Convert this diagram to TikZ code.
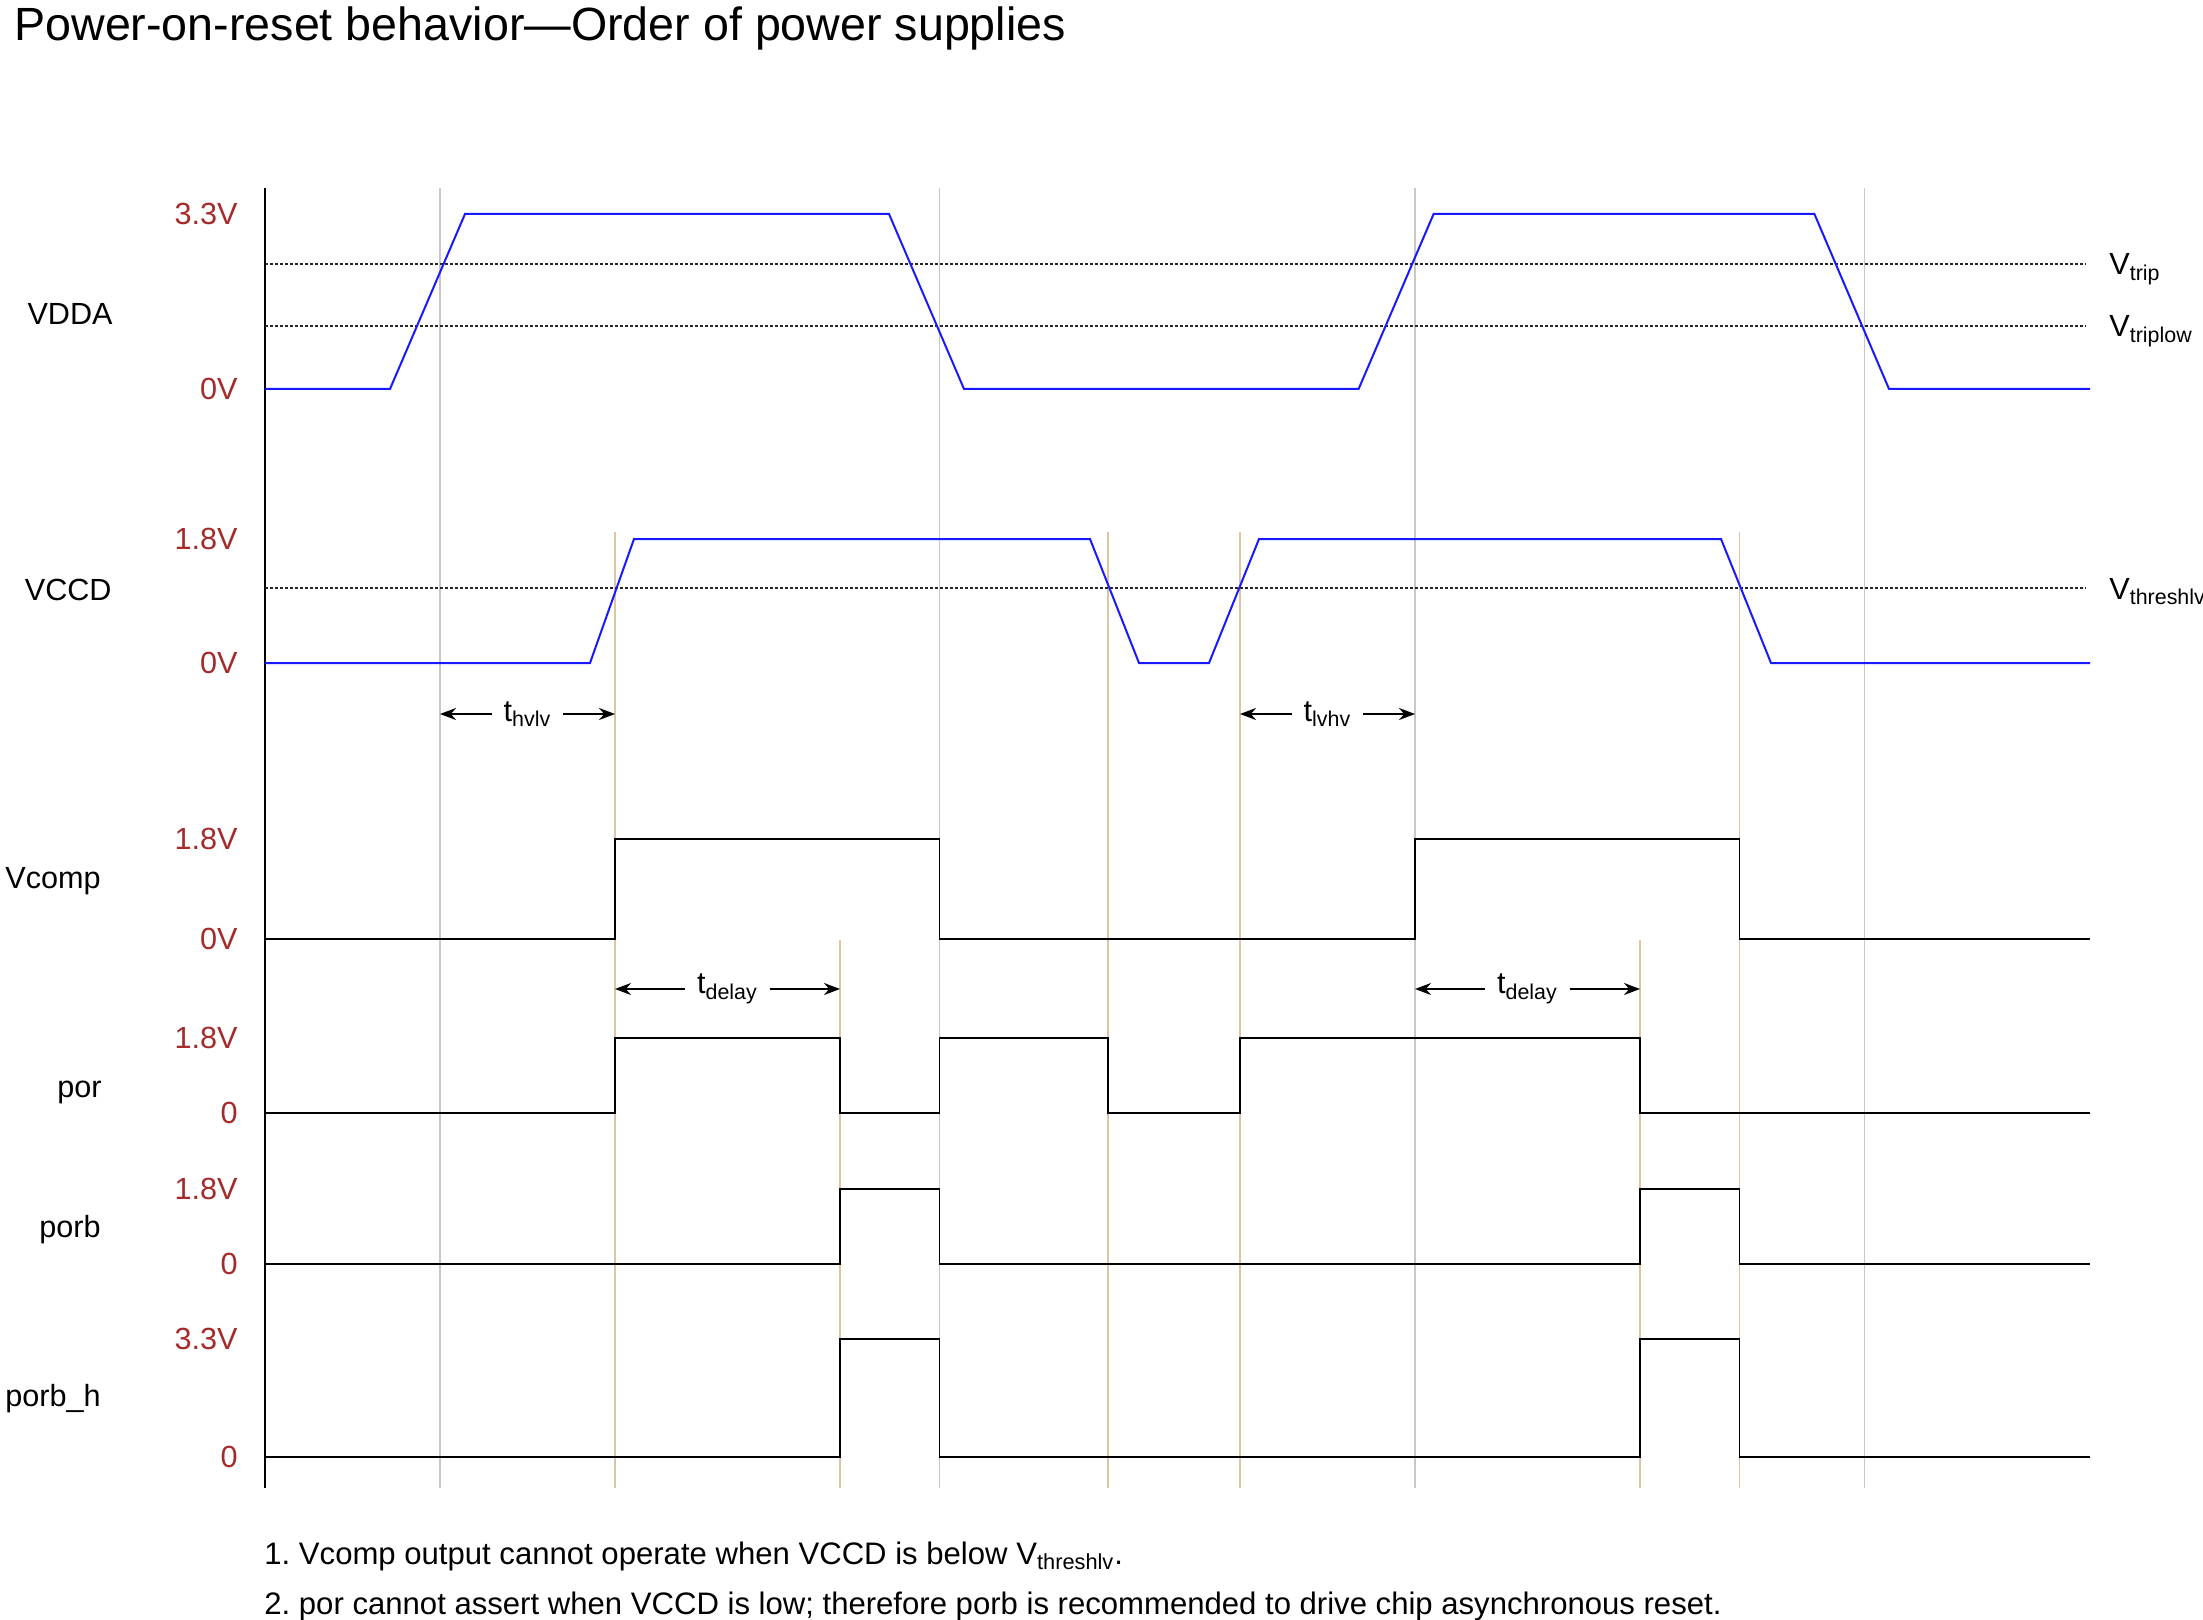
\documentclass[tikz,border=0pt]{standalone}
\usepackage{fontspec}
\setmainfont{Liberation Sans}
\usetikzlibrary{arrows.meta}
\frenchspacing
\definecolor{lvlred}{RGB}{165,42,42}
\definecolor{supblue}{RGB}{25,25,255}
\definecolor{gridgray}{RGB}{200,200,200}
\definecolor{gridtan}{RGB}{222,196,164}
\newcommand{\lbl}{\fontsize{15.3}{18}\selectfont}
\newcommand{\notefont}{\fontsize{15.55}{18}\selectfont}
% level values of one row: y high, y low, high text, low text
\newcommand{\levels}[4]{%
  \node[lvl] at (238,#1) {#3};
  \node[lvl] at (238,#2) {#4};}
\tikzset{
  supply/.style={supblue, line width=1pt},
  sig/.style={black, line width=0.9pt},
  thr/.style={black!85, line width=0.9pt, dash pattern=on 1.5pt off 1pt},
  gline/.style={gridgray, line width=0.6pt},
  oline/.style={gridtan, line width=0.6pt},
  lvl/.style={anchor=east, inner sep=0pt, font=\lbl, text=lvlred},
  signame/.style={anchor=base east, inner sep=0pt, font=\lbl},
  thrname/.style={anchor=base west, inner sep=0pt, font=\lbl},
  dimarr/.style={{Stealth[length=8pt,width=6pt]}-{Stealth[length=8pt,width=6pt]}, line width=1pt},
  dimtxt/.style={fill=white, inner xsep=6pt, inner ysep=1pt, font=\lbl},
}

\begin{document}
\begin{tikzpicture}[x=0.5pt,y=-0.5pt]
\useasboundingbox (0,0) rectangle (2203,1620);
\node[anchor=base west, inner sep=0pt, font=\fontsize{23.3}{28}\selectfont] (title) at (14,41)
  {Power-on-reset behavior—Order of power supplies};
% time marks
\foreach \t in {440,939.5,1415,1864.5} \draw[gline] (\t,188) -- (\t,1488);
\foreach \t in {615,1108,1240,1739.5} \draw[oline] (\t,532) -- (\t,1488);
\foreach \t in {840,1640} \draw[oline] (\t,940) -- (\t,1488);
\draw[line width=0.9pt] (265,188) -- (265,1488);
% thresholds
\draw[thr] (265,264) -- (2086,264);
\draw[thr] (265,326) -- (2086,326);
\draw[thr] (265,588) -- (2086,588);
\node[thrname] (vtrip) at (2109,275) {V\textsubscript{trip}};
\node[thrname] (vtriplow) at (2109,337) {V\textsubscript{triplow}};
\node[thrname] (vthr) at (2109,599) {V\textsubscript{threshlv}};
% supplies
\draw[supply] (265,389) -- (390,389) -- (465,214) -- (889,214) -- (964,389) -- (1358.6,389)
  -- (1433.6,214) -- (1814.4,214) -- (1889,389) -- (2090,389);
\draw[supply] (265,663) -- (590,663) -- (634,539) -- (1090,539) -- (1139,663) -- (1209,663)
  -- (1259,539) -- (1721,539) -- (1771,663) -- (2090,663);
% outputs
\draw[sig] (265,939) -- (615,939) -- (615,839) -- (939.5,839) -- (939.5,939) -- (1415,939)
  -- (1415,839) -- (1739.5,839) -- (1739.5,939) -- (2090,939);
\draw[sig] (265,1113) -- (615,1113) -- (615,1038) -- (840,1038) -- (840,1113) -- (939.5,1113)
  -- (939.5,1038) -- (1108,1038) -- (1108,1113) -- (1240,1113) -- (1240,1038) -- (1640,1038)
  -- (1640,1113) -- (2090,1113);
\draw[sig] (265,1264) -- (840,1264) -- (840,1189) -- (939.5,1189) -- (939.5,1264) -- (1640,1264)
  -- (1640,1189) -- (1739.5,1189) -- (1739.5,1264) -- (2090,1264);
\draw[sig] (265,1457) -- (840,1457) -- (840,1339) -- (939.5,1339) -- (939.5,1457) -- (1640,1457)
  -- (1640,1339) -- (1739.5,1339) -- (1739.5,1457) -- (2090,1457);
% row names and levels
\node[signame] (vdda) at (113,325) {VDDA};
\node[signame] (vccd) at (112,600) {VCCD};
\node[signame] (vcomp) at (101,888) {Vcomp};
\node[signame] (por) at (102,1097) {por};
\node[signame] (porb) at (101,1237) {porb};
\node[signame] (porbh) at (101,1406) {porb\_h};
\levels{214}{389}{3.3V}{0V}
\levels{539}{663}{1.8V}{0V}
\levels{839}{939}{1.8V}{0V}
\levels{1038}{1113}{1.8V}{0}
\levels{1189}{1264}{1.8V}{0}
\levels{1339}{1457}{3.3V}{0}
% timing
\draw[dimarr] (440,714) -- (615,714) node[dimtxt, midway] {t\textsubscript{hvlv}};
\draw[dimarr] (615,989) -- (840,989) node[dimtxt, midway] {t\textsubscript{delay}};
\draw[dimarr] (1240,714) -- (1415,714) node[dimtxt, midway] {t\textsubscript{lvhv}};
\draw[dimarr] (1415,989) -- (1640,989) node[dimtxt, midway] {t\textsubscript{delay}};
% notes
\node[anchor=base west, inner sep=0pt, font=\notefont] (note1) at (264,1564)
  {1. Vcomp output cannot operate when VCCD is below V\textsubscript{threshlv}.};
\node[anchor=base west, inner sep=0pt, font=\notefont] (note2) at (264,1614)
  {2. por cannot assert when VCCD is low; therefore porb is recommended to drive chip asynchronous reset.};
\end{tikzpicture}
\end{document}
